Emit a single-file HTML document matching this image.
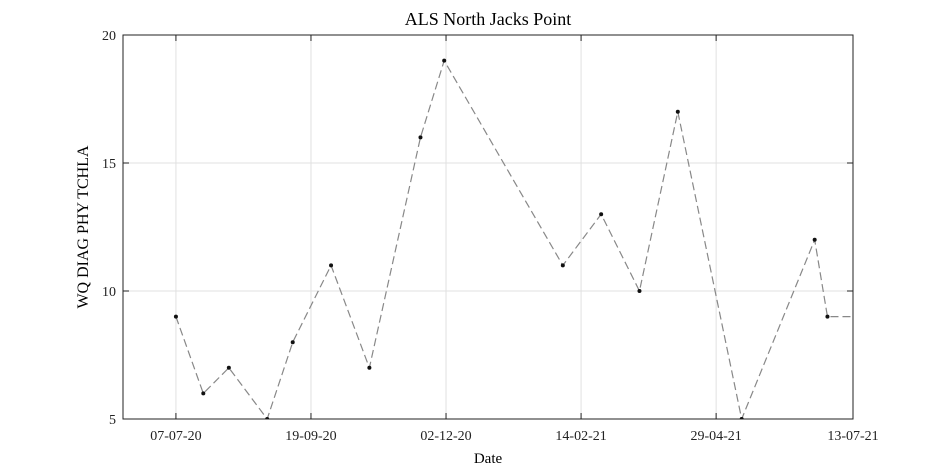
<!DOCTYPE html>
<html><head><meta charset="utf-8"><style>
html,body{margin:0;padding:0;background:#fff;}
svg{display:block;font-family:"Liberation Serif",serif;}
</style></head><body>
<svg id="chart" width="945" height="472">
<defs><clipPath id="clip"><rect x="123" y="35" width="730" height="384"/></clipPath></defs>
<rect x="0" y="0" width="945" height="472" fill="#fff"/>
<text x="488" y="25" font-size="18" text-anchor="middle">ALS North Jacks Point</text>
<g id="grid"></g>
<g id="axes"></g>
<g id="series" clip-path="url(#clip)"></g>
<text x="488" y="463" font-size="15" text-anchor="middle">Date</text>
<text transform="translate(88,227) rotate(-90)" font-size="16" text-anchor="middle">WQ DIAG PHY TCHLA</text>
</svg>
<script>
// data: days since 07-07-20, values
const dayOffsets = [0, 15, 29, 50, 64, 85, 106, 134, 147, 212, 233, 254, 275, 310, 350, 357, 375];
const values = [9, 6, 7, 5, 8, 11, 7, 16, 19, 11, 13, 10, 17, 5, 12, 9, 9];
const xTickDays = [0, 74, 148, 222, 296, 371];
const xTickLabels = ["07-07-20", "19-09-20", "02-12-20", "14-02-21", "29-04-21", "13-07-21"];
const yTicks = [5, 10, 15, 20];

const L = 123, R = 853, T = 35, B = 419;
const xMin = -29, xMax = 371, yMin = 5, yMax = 20;
const xs = d => L + (d - xMin) / (xMax - xMin) * (R - L);
const ys = v => B - (v - yMin) / (yMax - yMin) * (B - T);
const NS = "http://www.w3.org/2000/svg";
function mk(tag, attrs, parent) {
  const e = document.createElementNS(NS, tag);
  for (const k in attrs) e.setAttribute(k, attrs[k]);
  parent.appendChild(e); return e;
}
const grid = document.getElementById('grid'), axes = document.getElementById('axes'), series = document.getElementById('series');
xTickDays.forEach((d, i) => {
  const x = xs(d);
  const g = mk('line', {x1: x, x2: x, y1: T, y2: B, stroke: '#e0e0e0', 'stroke-width': 1}, grid);
  
  
  const t1 = mk('line', {x1: x, x2: x, y1: B, y2: B - 6, stroke: '#222'}, axes);
  
  
  const t2 = mk('line', {x1: x, x2: x, y1: T, y2: T + 6, stroke: '#222'}, axes);
  
  
  const lb = mk('text', {x: x, y: B + 21, 'font-size': 14, 'text-anchor': 'middle', fill: '#222'}, axes);
  lb.textContent = xTickLabels[i];
  
  
});
yTicks.forEach(v => {
  const y = ys(v);
  const g = mk('line', {x1: L, x2: R, y1: y, y2: y, stroke: '#e0e0e0', 'stroke-width': 1}, grid);
  
  
  const t1 = mk('line', {x1: L, x2: L + 6, y1: y, y2: y, stroke: '#222'}, axes);
  
  
  const t2 = mk('line', {x1: R, x2: R - 6, y1: y, y2: y, stroke: '#222'}, axes);
  
  
  const lb = mk('text', {x: L - 7, y: y + 5, 'font-size': 14, 'text-anchor': 'end', fill: '#222'}, axes);
  lb.textContent = v;
  
  
});
const frame = mk('rect', {x: L, y: T, width: R - L, height: B - T, fill: 'none', stroke: '#222', 'stroke-width': 1}, axes);


const pts = dayOffsets.map((d, i) => xs(d) + ',' + ys(values[i])).join(' ');
const line = mk('polyline', {points: pts, fill: 'none', stroke: '#888', 'stroke-width': 1.2, 'stroke-dasharray': '8,4'}, series);


dayOffsets.forEach((d, i) => {
  const c = mk('circle', {cx: xs(d), cy: ys(values[i]), r: 2, fill: '#111'}, series);
  
  
});
</script>
</body></html>
